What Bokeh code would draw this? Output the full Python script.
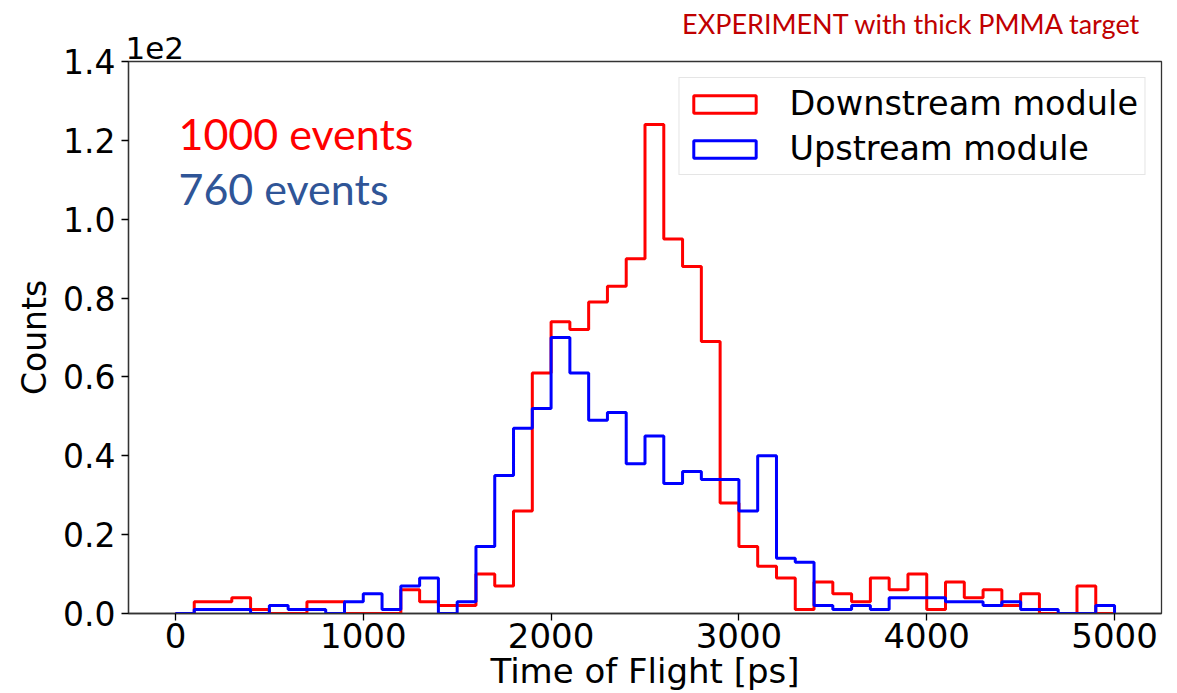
import numpy as np
from bokeh.plotting import figure
from bokeh.models import (Label, Legend, LegendItem, CustomJSTickFormatter,
                          FixedTicker, Range1d)
from bokeh.embed import file_html
from bokeh.resources import INLINE

# ---- data ----
bin_edges = list(range(0, 5001, 100))
downstream_counts = [0, 3, 3, 4, 1, 0, 0, 3, 3, 0,
                     0, 0, 6, 3, 2, 2, 10, 7, 26, 61,
                     74, 72, 79, 83, 90, 124, 95, 88, 69, 28,
                     17, 12, 9, 1, 8, 5, 3, 9, 6, 10,
                     1, 8, 4, 6, 2, 5, 0, 0, 7, 0]
upstream_counts = [0, 1, 1, 1, 0, 2, 1, 1, 0, 3,
                   5, 1, 7, 9, 0, 3, 17, 35, 47, 52,
                   70, 61, 49, 51, 38, 45, 33, 36, 34, 34,
                   26, 40, 14, 13, 2, 1, 2, 1, 4, 4,
                   4, 3, 3, 2, 3, 1, 1, 0, 0, 2]
x_ticks = [0, 1000, 2000, 3000, 4000, 5000]
y_ticks = [0, 20, 40, 60, 80, 100, 120, 140]
series_names = ["Downstream module", "Upstream module"]
series_colors = ["#FF0000", "#0000FF"]
event_texts = ["1000 events", "760 events"]
event_colors = ["#FF0000", "#2F5597"]
title_text = "EXPERIMENT with thick PMMA target"


def step_outline(edges, counts):
    e = np.asarray(edges, dtype=float)
    c = np.asarray(counts, dtype=float)
    xs = np.repeat(e, 2)
    ys = np.concatenate([[0.0], np.repeat(c, 2), [0.0]])
    return xs, ys


p = figure(width=1177, height=693, output_backend="svg", toolbar_location=None,
           x_range=Range1d(-250, 5250), y_range=Range1d(0, 140),
           min_border_left=128, min_border_right=16, min_border_top=61,
           min_border_bottom=80)
p.xgrid.visible = False
p.ygrid.visible = False
p.outline_line_color = "#333333"
p.outline_line_width = 1.3
p.background_fill_color = "white"
p.border_fill_color = "white"

for ax, fs in ((p.xaxis[0], "34px"), (p.yaxis[0], "33px")):
    ax.major_label_text_font = "DejaVu Sans"
    ax.major_label_text_font_size = fs
    ax.major_label_text_color = "black"
    ax.axis_label_text_font = "DejaVu Sans"
    ax.axis_label_text_font_size = fs
    ax.axis_label_text_font_style = "normal"
    ax.axis_label_text_color = "black"
    ax.minor_tick_line_color = None
    ax.major_tick_in = 0
    ax.major_tick_out = 7
    ax.major_tick_line_width = 1.3
    ax.axis_line_color = "#333333"
    ax.axis_line_width = 1.3

p.xaxis.ticker = FixedTicker(ticks=x_ticks)
p.yaxis.ticker = FixedTicker(ticks=y_ticks)
p.yaxis.formatter = CustomJSTickFormatter(code="return (tick/100).toFixed(1);")
p.xaxis.axis_label = "Time of Flight [ps]"
p.yaxis.axis_label = "Counts"
p.xaxis.major_label_standoff = 2
p.xaxis.axis_label_standoff = 0
p.yaxis.major_label_standoff = 6
p.yaxis.axis_label_standoff = 6

items = []
for counts, name, color in zip([downstream_counts, upstream_counts], series_names, series_colors):
    xs, ys = step_outline(bin_edges, counts)
    p.line(xs, ys, line_color=color, line_width=3)
    proxy = p.quad(left=[np.nan], right=[np.nan], top=[np.nan], bottom=[np.nan],
                   fill_alpha=0, line_color=color, line_width=3)
    items.append(LegendItem(label=name, renderers=[proxy]))

legend = Legend(items=items, location="top_right")
legend.label_text_font = "DejaVu Sans"
legend.label_text_font_size = "33.5px"
legend.label_text_color = "black"
legend.glyph_width = 78
legend.glyph_height = 22
legend.label_standoff = 26
legend.padding = 6
legend.spacing = 6
legend.margin = 16
legend.border_line_color = "#cccccc"
legend.border_line_width = 1.3
legend.background_fill_alpha = 0.8
p.add_layout(legend)

for txt, col, yv in zip(event_texts, event_colors, [121.8, 107.9]):
    p.add_layout(Label(x=16, y=yv, text=txt, text_color=col, text_font="Lato",
                       text_font_size="43px", text_baseline="alphabetic"))

p.add_layout(Label(x=1013, y=38, x_units="screen", y_units="screen",
                   text=title_text, text_color="#C00000",
                   text_font="Lato", text_font_size="27px", text_align="right",
                   text_baseline="alphabetic"), "above")
p.add_layout(Label(x=-3, y=-19, x_units="screen", y_units="screen",
                   text="1e2", text_color="black",
                   text_font="DejaVu Sans", text_font_size="31px",
                   text_baseline="alphabetic"), "above")

open("out.html", "w").write(file_html(p, INLINE))
